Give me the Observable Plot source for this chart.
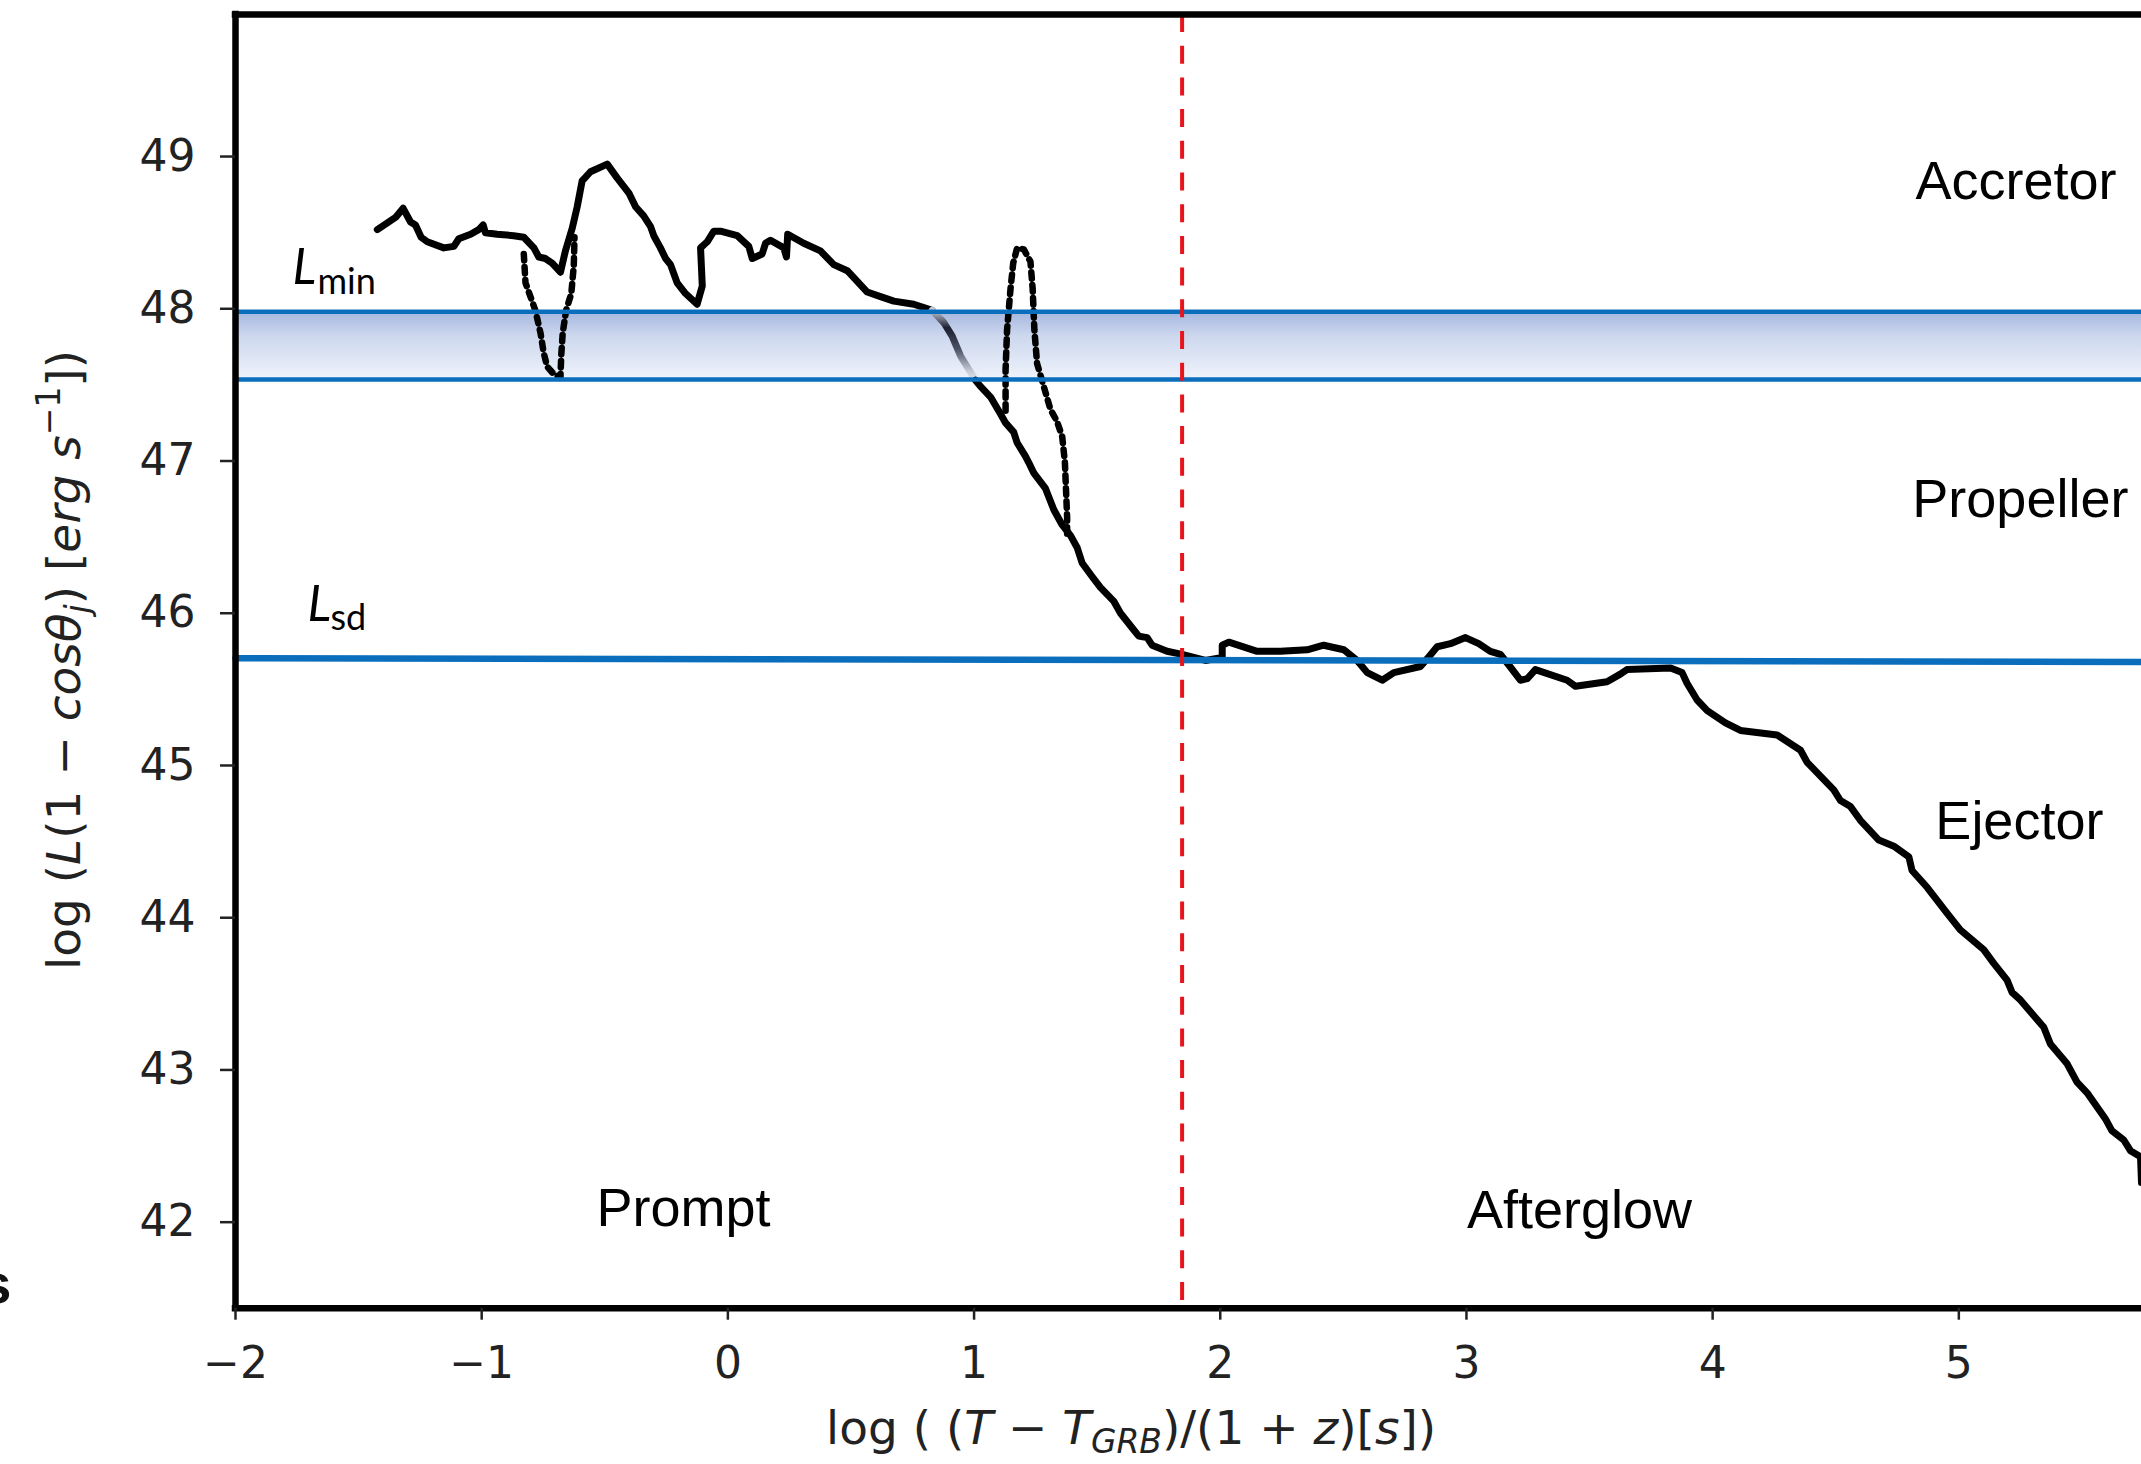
<!DOCTYPE html>
<html><head><meta charset="utf-8">
<script src="https://cdn.jsdelivr.net/npm/d3@7"></script>
<script src="https://cdn.jsdelivr.net/npm/@observablehq/plot@0.6"></script>
<style>html,body{margin:0;padding:0;background:#fff;} #chart{width:2141px;height:1464px;overflow:hidden;}</style>
</head><body><div id="chart"></div>
<script>
// ---- axes ----
const xDomain = [-2, 5.742];
const yDomain = [41.435, 49.933];
const xTicks = [-2, -1, 0, 1, 2, 3, 4, 5];
const yTicks = [42, 43, 44, 45, 46, 47, 48, 49];

// ---- main light curve: log time vs log luminosity ----
const curveT = [-1.424,-1.350,-1.319,-1.289,-1.269,-1.246,-1.221,-1.154,-1.113,-1.093,-1.045,-1.012,-0.994,-0.985,-0.937,-0.870,-0.829,-0.788,-0.768,-0.741,-0.714,-0.680,-0.660,-0.632,-0.612,-0.592,-0.558,-0.490,-0.450,-0.402,-0.375,-0.342,-0.314,-0.301,-0.274,-0.253,-0.233,-0.206,-0.172,-0.125,-0.104,-0.111,-0.084,-0.057,-0.030,0.038,0.085,0.099,0.139,0.153,0.173,0.227,0.238,0.243,0.308,0.376,0.430,0.485,0.566,0.620,0.674,0.755,0.830,
 0.877,0.911,0.945,1.006,
 1.026,1.067,1.107,1.128,1.161,1.175,1.209,1.222,1.243,1.290,1.324,1.358,1.392,1.419,1.439,1.480,1.513,1.567,1.595,1.649,1.669,1.703,1.723,1.784,1.845,1.940,2.008,2.008,2.035,2.150,2.244,2.353,2.420,2.502,2.556,2.597,2.658,2.705,2.813,2.840,2.881,2.935,2.996,3.050,3.097,3.138,3.172,3.219,3.247,3.280,3.409,3.443,3.571,3.625,3.652,3.829,3.876,3.896,3.937,3.978,4.052,4.113,4.262,4.357,4.384,4.438,4.492,4.519,4.560,4.600,4.675,4.736,4.797,4.810,4.871,4.952,5.006,5.101,5.142,5.196,5.216,5.250,5.345,5.372,5.440,5.480,5.521,5.595,5.622,5.670,5.697,5.738,5.742];
const curveL = [48.52,48.60,48.66,48.57,48.55,48.47,48.44,48.40,48.41,48.46,48.49,48.52,48.55,48.50,48.49,48.48,48.47,48.40,48.34,48.33,48.30,48.24,48.38,48.53,48.67,48.84,48.90,48.95,48.86,48.76,48.67,48.61,48.54,48.48,48.40,48.33,48.29,48.17,48.10,48.03,48.15,48.40,48.44,48.51,48.51,48.48,48.41,48.33,48.36,48.43,48.45,48.40,48.34,48.49,48.43,48.38,48.29,48.25,48.11,48.08,48.05,48.03,47.99,
 47.91,47.82,47.69,47.53,
 47.49,47.42,47.31,47.25,47.19,47.12,47.03,46.99,46.92,46.82,46.68,46.58,46.51,46.43,46.33,46.24,46.17,46.08,46.00,45.89,45.85,45.84,45.79,45.75,45.73,45.69,45.71,45.79,45.81,45.75,45.75,45.76,45.79,45.76,45.69,45.61,45.56,45.61,45.65,45.70,45.78,45.80,45.84,45.80,45.75,45.73,45.66,45.56,45.57,45.63,45.56,45.52,45.55,45.60,45.63,45.64,45.61,45.54,45.43,45.36,45.28,45.23,45.20,45.10,45.02,44.93,44.84,44.77,44.73,44.64,44.51,44.47,44.40,44.31,44.20,44.03,43.92,43.79,43.70,43.59,43.51,43.46,43.28,43.17,43.04,42.92,42.85,42.68,42.60,42.54,42.47,42.43,42.26];
const bandEnterT = 0.830;
const bandExitT = 1.006;

// ---- dotted alternative paths ----
const dip1T = [-0.829,-0.822,-0.782,-0.761,-0.748,-0.734,-0.707,-0.680,-0.677,-0.671,-0.657,-0.636,-0.626,-0.623];
const dip1L = [48.36,48.17,47.99,47.84,47.71,47.62,47.57,47.55,47.69,47.84,47.99,48.10,48.28,48.47];
const peak2T = [1.128,1.128,1.134,1.148,1.159,1.175,1.202,1.229,1.238,1.245,1.256,1.283,1.310,1.337,1.358,1.369,1.374,1.378,1.378];
const peak2L = [47.33,47.60,47.86,48.13,48.30,48.40,48.39,48.31,48.13,47.86,47.64,47.49,47.34,47.26,47.16,46.99,46.79,46.63,46.48];

// ---- reference levels ----
const lminUpper = 47.98;
const lminLower = 47.535;
const lsdT = [-2, 5.742];
const lsdL = [45.705, 45.68];
const transitionT = 1.845;

// ---- annotations (data-unit anchors) ----
const regionLabels = ["Accretor", "Propeller", "Ejector", "Prompt", "Afterglow"];
const regionT = [5.232, 5.250, 5.246, -0.180, 3.459];
const regionL = [48.724, 46.635, 44.520, 41.972, 41.959];
const levelNames = ["L", "L"];
const levelSubs = ["min", "sd"];
const levelT = [-1.768, -1.708];
const levelL = [48.166, 45.952];
const levelSubT = [-1.667, -1.614];
const levelSubL = [48.100, 45.887];
const xLabelT = 1.64;
const yLabelL = 45.69;

const curve = curveT.map((t, i) => ({t, L: curveL[i]}));
const partA = curve.filter(d => d.t <= bandEnterT);
const fade = curve.filter(d => d.t >= bandEnterT && d.t <= bandExitT);
const partB = curve.filter(d => d.t >= bandExitT);
const dip1 = dip1T.map((t, i) => ({t, L: dip1L[i]}));
const peak2 = peak2T.map((t, i) => ({t, L: peak2L[i]}));
const lsd = lsdT.map((t, i) => ({t, L: lsdL[i]}));
const fmt = d => d < 0 ? "\u2212" + Math.abs(d) : String(d);

const blue = "#0a6ebd";
const curveStyle = {x: "t", y: "L", stroke: "black", strokeWidth: 7, strokeLinejoin: "round"};
const dotStyle = {x: "t", y: "L", stroke: "black", strokeWidth: 6.5, strokeDasharray: "6.5,6.5"};

const plot = Plot.plot({
  width: 2141, height: 1464,
  marginLeft: 235, marginRight: 0, marginTop: 14, marginBottom: 156.3,
  x: {domain: xDomain},
  y: {domain: yDomain},
  style: {fontFamily: "DejaVu Sans", background: "white", color: "#222"},
  marks: [
    Plot.rect([0], {x1: xDomain[0], x2: xDomain[1], y1: lminLower, y2: lminUpper, fill: "url(#bandGrad)"}),
    Plot.line(partA, curveStyle),
    Plot.line(fade, {...curveStyle, stroke: "url(#fadeGrad)"}),
    Plot.line(partB, curveStyle),
    Plot.line(dip1, dotStyle),
    Plot.line(peak2, dotStyle),
    Plot.ruleY([lminUpper, lminLower], {stroke: blue, strokeWidth: 4.5}),
    Plot.line(lsd, {x: "t", y: "L", stroke: blue, strokeWidth: 6.5}),
    Plot.ruleX([transitionT], {stroke: "#e8141c", strokeWidth: 4, strokeDasharray: "18,13.7"}),
    Plot.ruleX([xDomain[0]], {stroke: "black", strokeWidth: 6.5, strokeLinecap: "square"}),
    Plot.ruleY([yDomain[0], yDomain[1]], {stroke: "black", strokeWidth: 6.5, strokeLinecap: "square"}),
    Plot.axisX({ticks: xTicks, tickFormat: fmt, tickSize: 12, tickPadding: 27, fontSize: 44, strokeWidth: 2.5, label: null}),
    Plot.axisY({ticks: yTicks, tickFormat: fmt, tickSize: 15, tickPadding: 25, fontSize: 44, strokeWidth: 2.5, label: null}),
    Plot.text(regionLabels, {x: (d, i) => regionT[i], y: (d, i) => regionL[i], text: d => d,
      fontSize: 54, fontFamily: "Liberation Sans, Arial, sans-serif", fill: "black", textAnchor: "middle", lineAnchor: "bottom"}),
    Plot.text(levelNames, {x: (d, i) => levelT[i], y: (d, i) => levelL[i], text: d => d,
      fontSize: 50, fontStyle: "italic", fontFamily: "Lato, 'Open Sans', sans-serif", fill: "black", textAnchor: "start", lineAnchor: "bottom"}),
    Plot.text(levelSubs, {x: (d, i) => levelSubT[i], y: (d, i) => levelSubL[i], text: d => d,
      fontSize: 36, fontFamily: "Lato, 'Open Sans', sans-serif", fill: "black", textAnchor: "start", lineAnchor: "bottom"}),
    Plot.text(["s"], {x: -2.91, y: 41.472, text: d => d, fontSize: 56, fontWeight: "bold", fontFamily: "Liberation Sans", fill: "#111", textAnchor: "end", lineAnchor: "bottom"})
  ]
});

const svg = d3.select(plot);
const defs = svg.insert("defs", ":first-child");
const bg = defs.append("linearGradient").attr("id", "bandGrad").attr("x1", 0).attr("y1", 0).attr("x2", 0).attr("y2", 1);
bg.append("stop").attr("offset", "0").attr("stop-color", "#a3b6de");
bg.append("stop").attr("offset", "0.35").attr("stop-color", "#ccd7ee");
bg.append("stop").attr("offset", "1").attr("stop-color", "#eff3fa");
const fg = defs.append("linearGradient").attr("id", "fadeGrad").attr("x1", 0).attr("y1", 0).attr("x2", 0).attr("y2", 1);
fg.append("stop").attr("offset", "0").attr("stop-color", "#c4c9d6");
fg.append("stop").attr("offset", "0.25").attr("stop-color", "#1c2030");
fg.append("stop").attr("offset", "0.55").attr("stop-color", "#4a5064");
fg.append("stop").attr("offset", "0.85").attr("stop-color", "#c0c5d2");
fg.append("stop").attr("offset", "1").attr("stop-color", "#e6e9f1");

const sx = plot.scale("x"), sy = plot.scale("y");
const X = d3.scaleLinear(sx.domain, sx.range);
const Y = d3.scaleLinear(sy.domain, sy.range);
const frameBottom = Y(yDomain[0]);
const frameLeft = X(xDomain[0]);

function richText(sel, parts, size) {
  let shift = 0;
  for (const [s, style, pos] of parts) {
    const target = pos === "sub" ? size * 0.2 : pos === "sup" ? -size * 0.42 : 0;
    const t = sel.append("tspan").text(s).attr("dy", target - shift);
    shift = target;
    if (style === "i") t.attr("font-style", "italic");
    if (pos) t.attr("font-size", size * 0.7);
  }
}
const labelSize = 47;
const xl = svg.append("text")
  .attr("x", X(xLabelT)).attr("y", frameBottom + 136)
  .attr("text-anchor", "middle").attr("font-size", labelSize)
  .attr("font-family", "DejaVu Sans").attr("fill", "#222");
richText(xl, [["log ( (", "n"], ["T", "i"], [" \u2212 ", "n"], ["T", "i"], ["GRB", "i", "sub"], [")/(1 + ", "n"], ["z", "i"], [")[", "n"], ["s", "i"], ["])", "n"]], labelSize);

const yl = svg.append("text")
  .attr("transform", `translate(${frameLeft - 155},${Y(yLabelL)}) rotate(-90)`)
  .attr("text-anchor", "middle").attr("font-size", labelSize)
  .attr("font-family", "DejaVu Sans").attr("fill", "#222");
richText(yl, [["log (", "n"], ["L", "i"], ["(1 \u2212 ", "n"], ["cos\u03B8", "i"], ["j", "i", "sub"], [") [", "n"], ["erg s", "i"], ["\u22121", "n", "sup"], ["])", "n"]], labelSize);

document.getElementById("chart").appendChild(plot);
</script>
</body></html>
